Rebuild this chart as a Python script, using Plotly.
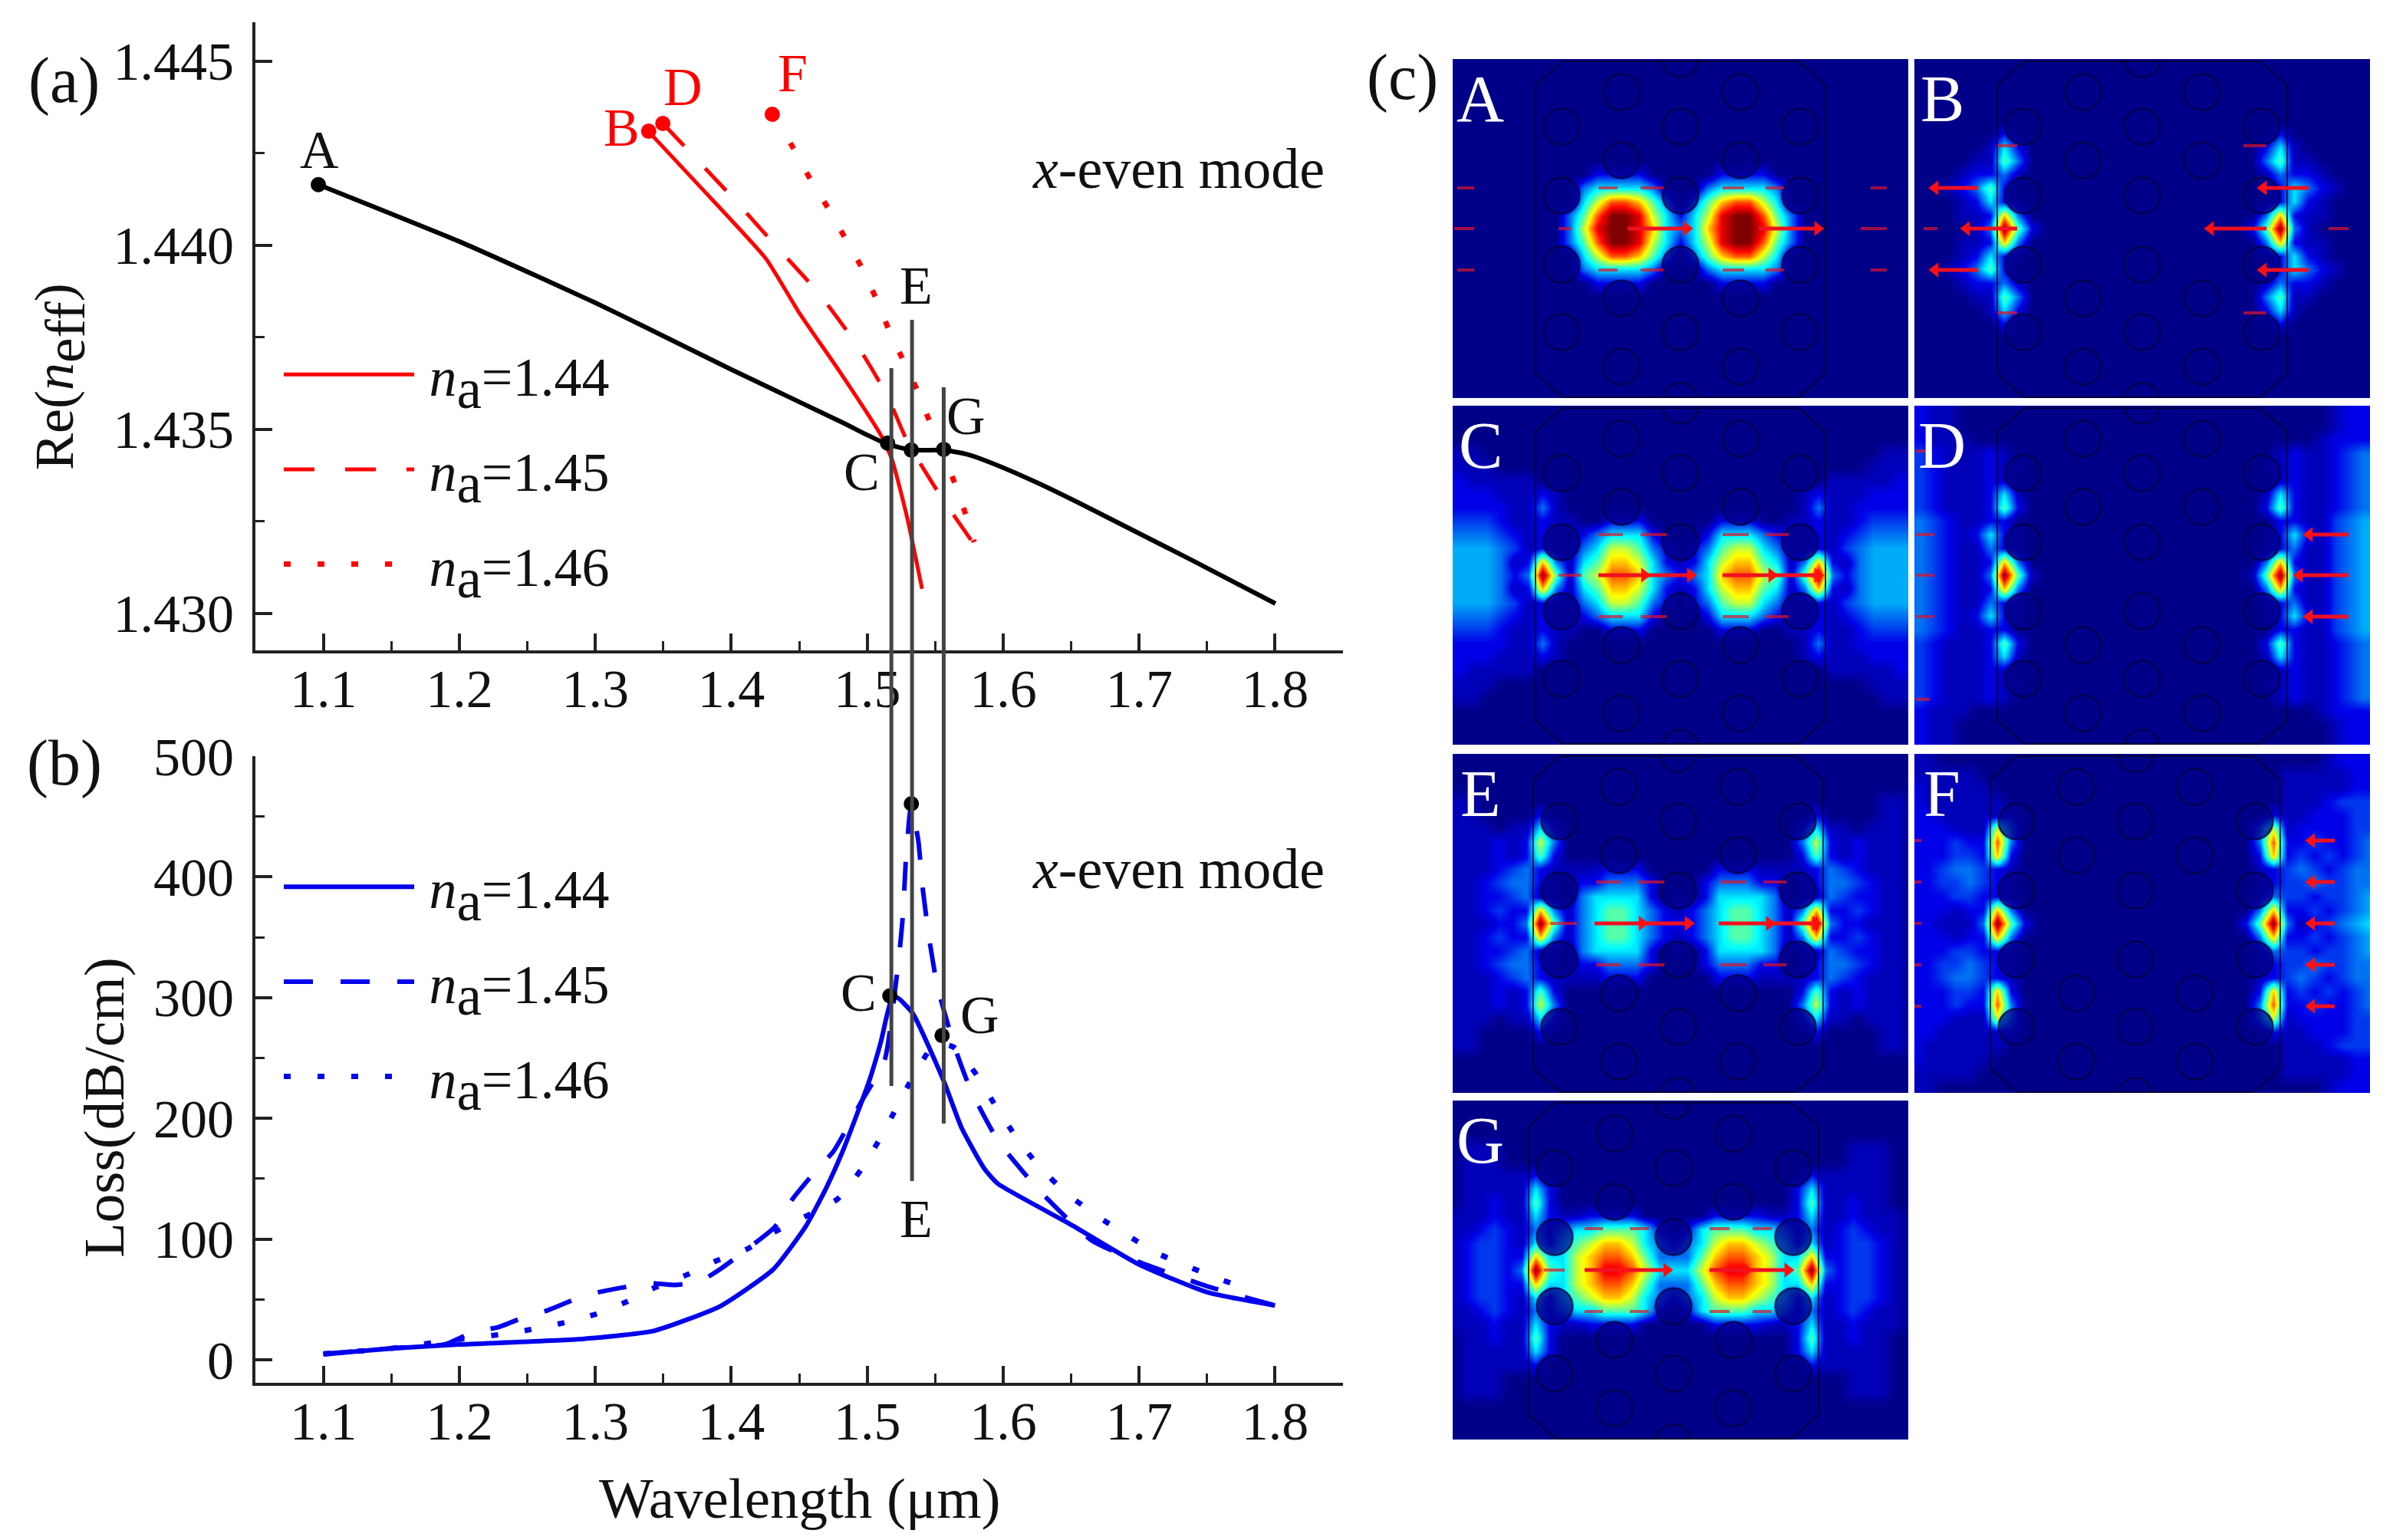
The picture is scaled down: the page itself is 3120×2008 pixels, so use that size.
import plotly.graph_objects as go

# (a) real part of the effective index
core_wl = [1.0963, 1.2003, 1.2568, 1.3, 1.3319, 1.4, 1.4828, 1.5, 1.515, 1.5325, 1.5563, 1.575, 1.5975, 1.6258, 1.6636, 1.7014, 1.7388, 1.8003]
core_neff = [1.44165, 1.4401, 1.43917, 1.43844, 1.43787, 1.43663, 1.43517, 1.43485, 1.4346, 1.43444, 1.43444, 1.43431, 1.434, 1.43354, 1.43286, 1.43215, 1.43145, 1.43027]
red144_wl = [1.339, 1.38, 1.4257, 1.45, 1.48, 1.51, 1.5184, 1.5297, 1.5404]
red144_neff = [1.4431, 1.44148, 1.43963, 1.43817, 1.43656, 1.43485, 1.43417, 1.43256, 1.43067]
red145_wl = [1.3497, 1.3997, 1.432, 1.4646, 1.4937, 1.515, 1.5298, 1.5544, 1.5788]
red145_neff = [1.44331, 1.44135, 1.44002, 1.43869, 1.43723, 1.4359, 1.43465, 1.43317, 1.43187]
red146_wl = [1.4302, 1.4449, 1.458, 1.4711, 1.4839, 1.4957, 1.5065, 1.5155, 1.5257, 1.5364, 1.5449, 1.5629, 1.5708, 1.5788]
red146_neff = [1.44356, 1.44269, 1.44181, 1.44102, 1.44019, 1.43942, 1.43856, 1.43775, 1.43694, 1.4361, 1.43531, 1.43369, 1.43288, 1.43194]

black_pts_wl = [1.0963, 1.515, 1.5325, 1.5563]
black_pts_neff = [1.44165, 1.43463, 1.43444, 1.43446]
red_pts_wl = [1.3393, 1.3497, 1.4302]
red_pts_neff = [1.4431, 1.44331, 1.44356]

# (b) loss
loss144_wl = [1.1, 1.15, 1.2, 1.287, 1.343, 1.392, 1.431, 1.4545, 1.4697, 1.4828, 1.5015, 1.51, 1.5175, 1.522, 1.5335, 1.5563, 1.5695, 1.5864, 1.596, 1.65, 1.7, 1.75, 1.8]
loss144 = [4.5, 9.5, 12.7, 17, 24, 44.5, 75, 110, 142, 175, 231, 263, 297, 300, 287, 231, 192, 158, 146, 112, 79, 56, 45]
loss145_wl = [1.1, 1.15, 1.19, 1.2099, 1.2285, 1.247, 1.265, 1.284, 1.3025, 1.3206, 1.3398, 1.358, 1.377, 1.393, 1.412, 1.432, 1.445, 1.461, 1.4754, 1.4958, 1.5128, 1.5235, 1.5264, 1.5283, 1.5311, 1.5325, 1.5376, 1.541, 1.5459, 1.5517, 1.5647, 1.576, 1.596, 1.626, 1.665, 1.7, 1.75, 1.8]
loss145 = [5, 9.5, 13, 23, 27, 35, 41, 49.6, 56, 60, 63.5, 62, 65, 76, 92, 110, 133, 155, 173, 214, 248, 335, 370, 411, 450, 460, 430, 389, 347, 309, 258, 224, 182, 141, 99, 81, 61, 45]
loss146_wl = [1.1, 1.15, 1.189, 1.2342, 1.2568, 1.278, 1.3009, 1.3229, 1.3443, 1.3675, 1.389, 1.412, 1.432, 1.478, 1.4958, 1.5088, 1.5212, 1.5325, 1.55, 1.5636, 1.5805, 1.5946, 1.6087, 1.6257, 1.6477, 1.672, 1.714, 1.759, 1.782]
loss146 = [5, 9.5, 15.5, 21.6, 26, 31, 38, 48, 60, 70.5, 82, 92, 106, 133, 158, 182, 208, 232, 262, 259, 236, 210, 186, 161, 137, 117, 88, 67, 58]

black_loss_wl = [1.5167, 1.5325, 1.5551]
black_loss = [301.5, 460.6, 268.6]

# (c) field maps, one character per cell, left to right and top to bottom
# "." is 0.5, "," is 1.5, ":" is 2.5
PANEL_A = [
    "0", "0", "0", "0", "0", "0", "0", "0",
    "00000000001 11100000111 10000000000",
    "00000000023 33320002333 32000000000",
    "00000000035 77642024677 53000000000",
    "00000000247 99853135899 74200000000",
    "00000000258 99863236899 85200000000",
    "00000000247 99853135899 74200000000",
    "00000000035 77642024677 53000000000",
    "00000000023 33320002333 32000000000",
    "00000000001 11100000111 10000000000",
    "0", "0", "0", "0", "0", "0", "0", "0",
]
PANEL_B = [
    "0", "0", "0", "0", "0",
    "00000010000 00000000000 00001000000",
    "00000.31000 00000000000 00013.00000",
    "0000..42000 00000000000 00024..0000",
    "000.112.000 00000000000 000.211.000",
    "00.12410000 00000000000 00001321.00",
    "000.131.000 00000000000 000.131.000",
    "000..162000 00000000000 000261..000",
    "0000.294100 00000000000 001492.0000",
    "000..162000 00000000000 000261..000",
    "000.131.000 00000000000 000.131.000",
    "00.12410000 00000000000 00001321.00",
    "000.112.000 00000000000 000.211.000",
    "0000..42000 00000000000 00024..0000",
    "00000.31000 00000000000 00013.00000",
    "00000010000 00000000000 00001000000",
    "0", "0", "0", "0", "0",
]
PANEL_C = [
    "0", "0", "0",
    "..000000000 00000000000 000000000..",
    "...00000000 00000000000 00000000...",
    "1.....00000 00000000000 00000.....1",
    "111...1.000 00000000000 000.1...111",
    "1111..2.000 00000000000 000.2..1111",
    ",,,1..1..00 11100000111 00..1..1,,,",
    "222,1.1..12 33310001333 21..1.1,222",
    ":::2,.1..23 55421012455 32..1.,2:::",
    ":::2.162.34 66531.13566 43.261.2:::",
    ":::21294.45 77632123677 54.49212:::",
    ":::2.162.34 66531.13566 43.261.2:::",
    ":::2,.1..23 55421012455 32..1.,2:::",
    "222,1.1..12 33310001333 21..1.1,222",
    ",,,1..1..00 11100000111 00..1..1,,,",
    "1111..2.000 00000000000 000.2..1111",
    "111...1.000 00000000000 000.1...111",
    "1.....00000 00000000000 00000.....1",
    "...00000000 00000000000 00000000...",
    "..000000000 00000000000 000000000..",
    "0", "0", "0",
]
PANEL_D = [
    "1..00000000 00000000000 00000000.11",
    "1..00000000 00000000000 00000000.11",
    "1...0000000 00000000000 0000000.111",
    ",1...1.0000 00000000000 0000.1..1,2",
    ",1...1..000 00000000000 000..1..1,2",
    ",1...1.0000 00000000000 0000.1..1,2",
    ",1...13.000 00000000000 000.31..1,2",
    ",1...141000 00000000000 000141..1,2",
    "2,1..110000 00000000000 000011..,2:",
    "2,1.131.000 00000000000 000.131.,2:",
    "2,1..21.000 00000000000 000.12..,2:",
    "2,1..162000 00000000000 000261..,2:",
    "2,1..294.00 00000000000 00.492..,2:",
    "2,1..162000 00000000000 000261..,2:",
    "2,1..21.000 00000000000 000.12..,2:",
    "2,1.131.000 00000000000 000.131.,2:",
    "2,1..110000 00000000000 000011..,2:",
    ",1...141000 00000000000 000141..1,2",
    ",1...13.000 00000000000 000.31..1,2",
    ",1...1.0000 00000000000 0000.1..1,2",
    ",1...1..000 00000000000 000..1..1,2",
    ",1...1.0000 00000000000 0000.1..1,2",
    "1...0000000 00000000000 0000000.111",
    "1..00000000 00000000000 00000000.11",
    "1..00000000 00000000000 00000000.11",
]
PANEL_E = [
    "00000000000 00000000000 000000000000", "0", "0",
    "..000000000 00000000000 000000000..",
    "..000010000 00000000000 000010000..",
    "...0..31000 00000000000 00013..0...",
    "...1.152000 00000000000 000251.1...",
    "...1.141000 00000000000 000141.1...",
    "...1,21.... 11100000111 ....12,1...",
    "..1,221.011 22210001222 110.122,1..",
    "..11,2..023 33310.01333 320..2,11..",
    "..1,1162.23 44321.12344 32.2611,1..",
    "...11294.23 44321112344 32.49211...",
    "..1,1162.23 44321.12344 32.2611,1..",
    "..11,2..023 33310.01333 320..2,11..",
    "..1,221.011 22210001222 110.122,1..",
    "...1,21.... 11100000111 ....12,1...",
    "...1.141000 00000000000 000141.1...",
    "...1.152000 00000000000 000251.1...",
    "...0..31000 00000000000 00013..0...",
    "..000010000 00000000000 000010000..",
    "..000000000 00000000000 000000000..",
    "0", "0", "0",
]
PANEL_F = [
    "..000000000 00000000000 00000000.111",
    ".....000000 00000000000 00000.....11",
    "1.....00000 00000000000 00000.....11",
    "1......0000 00000000000 00000...1,,,",
    "11.....1000 00000000000 00001..111,,",
    "111...52000 00000000000 00025.1111,,",
    "111,1172000 00000000000 0002711,11,2",
    "111,,161000 00000000000 000161,1,1,2",
    "11,22,1.000 00000000000 000.1,2,1,22",
    "11,,2,1.000 00000000000 000.1,,2,,22",
    "111,,11.000 00000000000 000.2,,1,,2:",
    "111.1162000 00000000000 0002611,1,2:",
    "11...294100 00000000000 001492.1,2:3",
    "111.1162000 00000000000 0002611,1,2:",
    "111,,11.000 00000000000 000.2,,1,,2:",
    "11,,2,1.000 00000000000 000.1,,2,,22",
    "11,22,1.000 00000000000 000.1,2,1,22",
    "111,,161000 00000000000 000161,1,1,2",
    "111,1172000 00000000000 0002711,11,2",
    "111...52000 00000000000 00025.1111,,",
    "11.....1000 00000000000 00001..111,,",
    "1......0000 00000000000 00000...1,,,",
    "1.....00000 00000000000 00000.....11",
    ".....000000 00000000000 00000.....11",
    "..000000000 00000000000 00000000.111",
]
PANEL_G = [
    "0", "0", "0",
    "0...0000000 00000000000 0000000...00",
    "0...0000000 00000000000 0000000...00",
    "0.....10000 00000000000 00001.....00",
    "0.....31000 00000000000 00013.....00",
    "0..1..41000 00000000000 00014..1..00",
    "...1..31..1 11100000111 1..13..1...0",
    "..1,1.21233 44431013444 33212.1,1..0",
    ".1,,1.31345 66532123566 54313.1,,1.0",
    ".1,,1163356 77642224677 6533611,,1.0",
    ".1,,1294356 88753335788 6534921,,1.0",
    ".1,,1163356 77642224677 6533611,,1.0",
    ".1,,1.31345 66532123566 54313.1,,1.0",
    "..1,1.21233 44431013444 33212.1,1..0",
    "...1..31..1 11100000111 1..13..1...0",
    "0..1..41000 00000000000 00014..1..00",
    "0.....31000 00000000000 00013.....00",
    "0.....10000 00000000000 00001.....00",
    "0...0000000 00000000000 0000000...00",
    "0...0000000 00000000000 0000000...00",
    "0", "0", "0",
]

# air holes of the fibre cross section, in panel pixels
hole_x = [297, 220, 375, 142, 297, 453, 220, 375, 142, 297, 453, 142, 297, 453, 220, 375, 142, 297, 453, 220, 375, 297]
hole_y = [0, 43, 43, 88, 88, 88, 132, 132, 178, 178, 178, 268, 268, 268, 312, 312, 356, 356, 356, 401, 401, 446]
outline_x = [143, 108, 108, 143, 451, 486, 486, 451, 143]
outline_y = [3, 34, 410, 441, 441, 410, 34, 3, 3]

# field arrows (start, end, y); the small ones have no head
ARROWS_A = [(228, 305, 221), (399, 476, 221)]
SMALL_A = [(190, 215, 168), (245, 275, 168), (352, 380, 168), (408, 432, 168), (6, 28, 168), (545, 566, 168),
           (190, 215, 275), (245, 275, 275), (352, 380, 275), (408, 432, 275), (6, 28, 275), (545, 566, 275),
           (2, 28, 221), (138, 155, 221), (532, 566, 221)]
ARROWS_B = [(134, 68, 221), (459, 386, 221), (83, 27, 168), (514, 455, 168), (83, 27, 275), (514, 455, 275)]
SMALL_B = [(108, 134, 113), (429, 459, 113), (108, 134, 331), (429, 459, 331), (12, 30, 221), (540, 566, 221)]
ARROWS_C = [(190, 250, 221), (250, 310, 221), (352, 416, 221), (416, 476, 221)]
SMALL_C = [(190, 222, 168), (245, 279, 168), (352, 386, 168), (408, 438, 168),
           (190, 222, 275), (245, 279, 275), (352, 386, 275), (408, 438, 275), (138, 168, 221)]
ARROWS_D = [(566, 502, 221), (566, 515, 168), (566, 515, 275)]
SMALL_D = [(2, 26, 221), (2, 26, 168), (2, 26, 275), (2, 20, 59), (2, 20, 383)]
ARROWS_E = [(188, 250, 221), (250, 310, 221), (350, 416, 221), (416, 476, 221)]
SMALL_E = [(190, 222, 167), (245, 279, 167), (352, 386, 167), (408, 438, 167),
           (190, 222, 275), (245, 279, 275), (352, 386, 275), (408, 438, 275), (130, 165, 221)]
ARROWS_F = [(557, 527, 113), (557, 527, 167), (557, 527, 221), (557, 527, 275), (557, 527, 329)]
SMALL_F = [(2, 18, 113), (2, 18, 167), (2, 18, 221), (2, 18, 275), (2, 18, 329)]
ARROWS_G = [(181, 228, 221), (228, 288, 221), (344, 392, 221), (392, 446, 221)]
SMALL_G = [(181, 205, 167), (240, 265, 167), (344, 370, 167), (400, 425, 167),
           (181, 205, 275), (240, 265, 275), (344, 370, 275), (400, 425, 275), (128, 155, 221)]

SERIF = "Liberation Serif"
RED = "#ff0000"
BLUE = "#0000ee"
INK = "#111111"
W, H = 3120, 2008
jet = [[0, "#000088"], [1 / 9, "#0000e8"], [0.36, "#00ffff"], [0.61, "#ffff00"], [0.86, "#ff0000"], [1, "#7f0000"]]
HALF_STEPS = {".": 0.5, ",": 1.5, ":": 2.5}


def big_sub(s):
    # the subscripts in this figure are nearly as tall as the main text
    return '<sub><span style="font-size:145%">' + s + "</span></sub>"


def na_label(v):
    return "\u2009<i>n</i>" + big_sub("a") + "=" + v


def px_x(x):
    return x / W


def px_y(y):
    return 1 - y / H


def parse_panel(rows):
    rows = [r.replace(" ", "") for r in rows]
    ncols = max(len(r) for r in rows)
    return [[HALF_STEPS[c] if c in HALF_STEPS else int(c) for c in r.ljust(ncols, "0")] for r in rows]


def curve(color, width, dash="solid"):
    return dict(color=color, width=width, dash=dash, shape="spline", smoothing=0.5)


fig = go.Figure()

# --- panel (a)
fig.add_trace(go.Scatter(x=core_wl, y=core_neff, mode="lines", line=curve("black", 6), showlegend=False))
fig.add_trace(go.Scatter(x=red144_wl, y=red144_neff, mode="lines", name=na_label("1.44"), legendgroup="r1",
                         line=curve(RED, 5)))
fig.add_trace(go.Scatter(x=red145_wl, y=red145_neff, mode="lines", name=na_label("1.45"), legendgroup="r2",
                         line=curve(RED, 5, "40px,40px")))
fig.add_trace(go.Scatter(x=red146_wl, y=red146_neff, mode="lines", name=na_label("1.46"), legendgroup="r3",
                         line=curve(RED, 7, "9px,35px")))
fig.add_trace(go.Scatter(x=black_pts_wl, y=black_pts_neff, mode="markers", marker=dict(color="black", size=20), showlegend=False))
fig.add_trace(go.Scatter(x=red_pts_wl, y=red_pts_neff, mode="markers", marker=dict(color=RED, size=20), showlegend=False))

# --- panel (b)
fig.add_trace(go.Scatter(x=loss144_wl, y=loss144, xaxis="x2", yaxis="y2", mode="lines", name=na_label("1.44"),
                         legend="legend2", legendgroup="b1", line=curve(BLUE, 6)))
fig.add_trace(go.Scatter(x=loss145_wl, y=loss145, xaxis="x2", yaxis="y2", mode="lines", name=na_label("1.45"),
                         legend="legend2", legendgroup="b2", line=curve(BLUE, 6, "38px,36px")))
fig.add_trace(go.Scatter(x=loss146_wl, y=loss146, xaxis="x2", yaxis="y2", mode="lines", name=na_label("1.46"),
                         legend="legend2", legendgroup="b3", line=curve(BLUE, 7, "9px,35px")))
fig.add_trace(go.Scatter(x=black_loss_wl, y=black_loss, xaxis="x2", yaxis="y2", mode="markers",
                         marker=dict(color="black", size=20), showlegend=False))

line_color = "#222222"
tick_font = dict(family=SERIF, size=70, color=INK)
xaxis_common = dict(range=[1.05, 1.85], tick0=1.1, dtick=0.1, ticks="inside", ticklen=22, tickwidth=4,
                    tickcolor=line_color, showline=True, linewidth=4, linecolor=line_color, showgrid=False,
                    zeroline=False, tickfont=tick_font, tickformat=".1f", ticklabelstandoff=-14, automargin=False,
                    minor=dict(ticks="inside", ticklen=12, tickwidth=3, tick0=1.1, dtick=0.05, tickcolor=line_color))
yaxis_common = dict(ticks="inside", ticklen=22, tickwidth=4, tickcolor=line_color, showline=True, linewidth=4,
                    linecolor=line_color, showgrid=False, zeroline=False, tickfont=tick_font, ticklabelstandoff=10,
                    automargin=False)

legend_common = dict(xanchor="left", yanchor="top", bgcolor="rgba(0,0,0,0)", itemwidth=170,
                     tracegroupgap=27, font=dict(family=SERIF, size=72, color=INK))
layout = dict(
    template="none",
    width=W, height=H, margin=dict(l=0, r=0, t=0, b=0), paper_bgcolor="white", plot_bgcolor="white",
    font=dict(family=SERIF, size=70, color=INK),
    xaxis=dict(xaxis_common, domain=[px_x(333), px_x(1751)], anchor="y"),
    yaxis=dict(yaxis_common, domain=[px_y(848), px_y(29)], anchor="x", range=[1.429, 1.44606], tick0=1.43, dtick=0.005,
               tickformat=".3f", minor=dict(ticks="inside", ticklen=12, tickwidth=3, tick0=1.43, dtick=0.0025,
                                            tickcolor=line_color)),
    xaxis2=dict(xaxis_common, domain=[px_x(333), px_x(1751)], anchor="y2"),
    yaxis2=dict(yaxis_common, domain=[px_y(1803), px_y(986)], anchor="x2", range=[-19, 500], tick0=0, dtick=100,
                minor=dict(ticks="inside", ticklen=12, tickwidth=3, tick0=0, dtick=50, tickcolor=line_color)),
    legend=dict(legend_common, x=px_x(365), y=px_y(435)),
    legend2=dict(legend_common, x=px_x(365), y=px_y(1103)),
)

# --- panel (c), field maps
col_left, col_right = 1894, 2496
row_a, row_c, row_e, row_g = 77, 529, 983, 1435
panels = [
    ("A", PANEL_A, ARROWS_A, SMALL_A, col_left, row_a, 0),
    ("B", PANEL_B, ARROWS_B, SMALL_B, col_right, row_a, 0),
    ("C", PANEL_C, ARROWS_C, SMALL_C, col_left, row_c, 0),
    ("D", PANEL_D, ARROWS_D, SMALL_D, col_right, row_c, 0),
    ("E", PANEL_E, ARROWS_E, SMALL_E, col_left, row_e, -3),
    ("F", PANEL_F, ARROWS_F, SMALL_F, col_right, row_e, -9),
    ("G", PANEL_G, ARROWS_G, SMALL_G, col_left, row_g, -9),
]

notes = []
for i, (letter, rows, arrows, small, left, top, shift) in enumerate(panels):
    n = i + 3
    xa, ya = "x%d" % n, "y%d" % n
    z = parse_panel(rows)
    fig.add_trace(go.Heatmap(z=z, x=[shift + (c + 0.5) * 18 for c in range(len(z[0]))],
                             y=[(r + 0.5) * 17.7 for r in range(len(z))], xaxis=xa, yaxis=ya,
                             colorscale=jet, zmin=0, zmax=9, zsmooth="best", showscale=False))
    fig.add_trace(go.Scatter(x=[v + shift for v in hole_x], y=hole_y, xaxis=xa, yaxis=ya, mode="markers", showlegend=False,
                             marker=dict(size=47, color="rgba(0,0,136,0.75)", line=dict(color="rgba(0,0,60,0.75)", width=2.5))))
    fig.add_trace(go.Scatter(x=[v + shift for v in outline_x], y=outline_y, xaxis=xa, yaxis=ya, mode="lines", showlegend=False,
                             line=dict(color="rgba(0,0,40,0.8)", width=2)))
    sx, sy = [], []
    for x0, x1, y in small:
        sx += [x0 + shift, x1 + shift, None]
        sy += [y, y, None]
    fig.add_trace(go.Scatter(x=sx, y=sy, xaxis=xa, yaxis=ya, mode="lines", showlegend=False,
                             line=dict(color="rgba(225,20,40,0.7)", width=4)))
    ax, ay, hx, hy, hs = [], [], [], [], []
    for x0, x1, y in arrows:
        ax += [x0 + shift, x1 + shift, None]
        ay += [y, y, None]
        hx.append(x1 + shift)
        hy.append(y)
        hs.append("triangle-right" if x1 > x0 else "triangle-left")
    fig.add_trace(go.Scatter(x=ax, y=ay, xaxis=xa, yaxis=ya, mode="lines", showlegend=False,
                             line=dict(color="#f01020", width=5)))
    fig.add_trace(go.Scatter(x=hx, y=hy, xaxis=xa, yaxis=ya, mode="markers", showlegend=False,
                             marker=dict(color="#ff1010", size=17, symbol=hs)))
    layout["xaxis%d" % n] = dict(domain=[px_x(left), px_x(left + 594)], range=[0, 594], visible=False, anchor=ya,
                                 fixedrange=True, automargin=False)
    layout["yaxis%d" % n] = dict(domain=[px_y(top + 442), px_y(top)], range=[442, 0], visible=False, anchor=xa,
                                 fixedrange=True, automargin=False)
    notes.append((left + 36, top + 52, letter, 86, "white"))

# labels, in page pixels
notes += [
    (83, 105, "(a)", 84, INK), (84, 995, "(b)", 84, INK), (1828, 101, "(c)", 84, INK),
    (416, 195, "A", 70, INK), (810, 166, "B", 70, RED), (890, 114, "D", 70, RED), (1033, 96, "F", 70, RED),
    (1194, 373, "E", 70, INK), (1123, 615, "C", 70, INK), (1259, 542, "G", 70, INK),
    (1119, 1294, "C", 70, INK), (1277, 1323, "G", 70, INK), (1194, 1589, "E", 70, INK),
    (1536, 220, "<i>x</i>-even mode", 74, INK), (1536, 1133, "<i>x</i>-even mode", 74, INK),
    (1043, 1953, "Wavelength (μm)", 75, INK),
]
annotations = [dict(x=px_x(x), y=px_y(y), xref="paper", yref="paper", text=t, showarrow=False, xanchor="center",
                    yanchor="middle", font=dict(family=SERIF, size=s, color=c)) for x, y, t, s, c in notes]
annotations.append(dict(x=px_x(78), y=px_y(491), xref="paper", yref="paper", text="Re(<i>n</i>" + big_sub("eff") + ")", textangle=-90,
                        showarrow=False, xanchor="center", yanchor="middle", font=dict(family=SERIF, size=72, color=INK)))
annotations.append(dict(x=px_x(135), y=px_y(1444), xref="paper", yref="paper", text="Loss(dB/cm)", textangle=-90,
                        showarrow=False, xanchor="center", yanchor="middle", font=dict(family=SERIF, size=75, color=INK)))
layout["annotations"] = annotations

# the three guide lines run across both plots
guides = [(1.5178, 480, 1416), (1.533, 417, 1540), (1.5563, 505, 1465)]
layout["shapes"] = [dict(type="line", xref="x", yref="paper", x0=x, x1=x, y0=px_y(y0), y1=px_y(y1),
                         line=dict(color="#444444", width=5)) for x, y0, y1 in guides]

fig.update_layout(**layout)
fig.write_html("out.html", config=dict(displayModeBar=False), post_script="document.body.style.margin='0';")
